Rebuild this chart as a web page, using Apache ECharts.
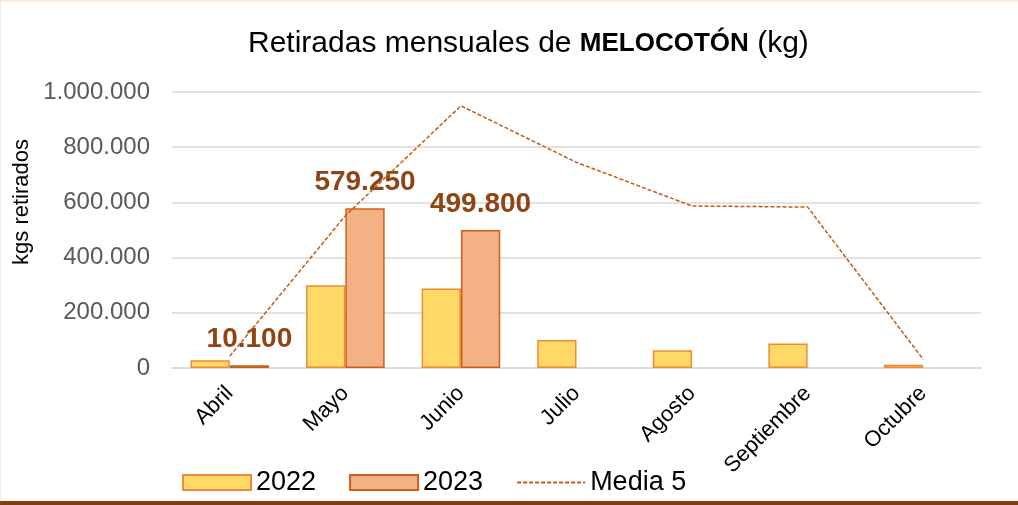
<!DOCTYPE html>
<html>
<head>
<meta charset="utf-8">
<script src="https://cdn.jsdelivr.net/npm/echarts@6/dist/echarts.min.js"></script>
<style>
  html, body { margin: 0; padding: 0; background: #fff; }
  #chart { width: 1018px; height: 505px; }
</style>
</head>
<body>
<div id="chart"></div>
<script>
const meses = ["Abril", "Mayo", "Junio", "Julio", "Agosto", "Septiembre", "Octubre"];
const kg2022 = [28000, 300000, 288000, 101000, 64000, 89000, 12000];
const kg2023 = [10100, 579250, 499800, null, null, null, null];
const media5 = [43000, 552000, 950000, 745000, 587000, 583000, 31000];

const FONT = "Liberation Sans";

// miles con punto
const fmt = (v) => String(v).replace(/\B(?=(\d{3})+(?!\d))/g, ".");

const chart = echarts.init(document.getElementById("chart"));

const option = {
  backgroundColor: "#fff",
  animation: false,
  textStyle: { fontFamily: FONT },
  title: {
    text: "Retiradas mensuales de {b|MELOCOTÓN} (kg)",
    left: 243,
    top: 24,
    textStyle: {
      fontFamily: FONT,
      fontSize: 30,
      fontWeight: "normal",
      color: "#000",
      rich: {
        b: { fontFamily: FONT, fontSize: 26, fontWeight: "bold", color: "#000" },
      },
    },
  },
  legend: {
    left: 177,
    top: 464,
    itemWidth: 68,
    itemHeight: 15,
    itemGap: 33,
    textStyle: { fontFamily: FONT, fontSize: 27, color: "#000" },
    data: [
      { name: "2022", icon: "rect" },
      { name: "2023", icon: "rect" },
      { name: "Media 5", itemStyle: { opacity: 0 } },
    ],
  },
  grid: {
    left: 172,
    right: 37,
    top: 92,
    bottom: 137,
  },
  xAxis: {
    type: "category",
    data: meses,
    axisTick: { show: false },
    axisLine: { lineStyle: { color: "#D9D9D9", width: 1.5 } },
    axisLabel: {
      rotate: 45,
      margin: 22,
      fontFamily: FONT,
      fontSize: 22,
      color: "#000",
    },
  },
  yAxis: {
    type: "value",
    min: 0,
    max: 1000000,
    interval: 200000,
    axisLine: { show: false },
    axisTick: { show: false },
    splitLine: { lineStyle: { color: "#D9D9D9", width: 1.5 } },
    axisLabel: {
      margin: 22,
      fontFamily: FONT,
      fontSize: 24,
      color: "#595959",
      formatter: fmt,
    },
  },
  series: [
    {
      name: "2022",
      type: "bar",
      data: kg2022,
      barGap: "0%",
      barCategoryGap: "32%",
      itemStyle: { color: "#FFD966", borderColor: "#F0893A", borderWidth: 1.5 },
    },
    {
      name: "2023",
      type: "bar",
      data: kg2023,
      itemStyle: { color: "#F4B183", borderColor: "#C9601A", borderWidth: 1.5 },
      label: {
        show: true,
        position: "top",
        distance: 12,
        fontFamily: FONT,
        fontSize: 28,
        fontWeight: "bold",
        color: "#8E4513",
        formatter: (p) => (p.value == null ? "" : fmt(p.value)),
      },
    },
    {
      name: "Media 5",
      type: "line",
      data: media5,
      symbol: "none",
      z: 5,
      lineStyle: { color: "#C55A11", width: 1.5, type: [4, 2] },
      itemStyle: { color: "#C55A11" },
    },
  ],
  graphic: [
    { type: "rect", left: 0, top: 0, shape: { width: 1018, height: 2 }, style: { fill: "#FBEADB" } },
    { type: "rect", left: 0, top: 0, shape: { width: 1, height: 505 }, style: { fill: "#FBEADB" } },
    { type: "rect", left: 0, top: 501, shape: { width: 1018, height: 4 }, style: { fill: "#843C0C" } },
    {
      type: "text",
      x: 22,
      y: 202,
      rotation: Math.PI / 2,
      style: {
        text: "kgs retirados",
        fontFamily: FONT,
        fontSize: 22,
        fill: "#000",
        align: "center",
        verticalAlign: "middle",
      },
    },
  ],
};

chart.setOption(option);
window.addEventListener("resize", () => chart.resize());
</script>
</body>
</html>
